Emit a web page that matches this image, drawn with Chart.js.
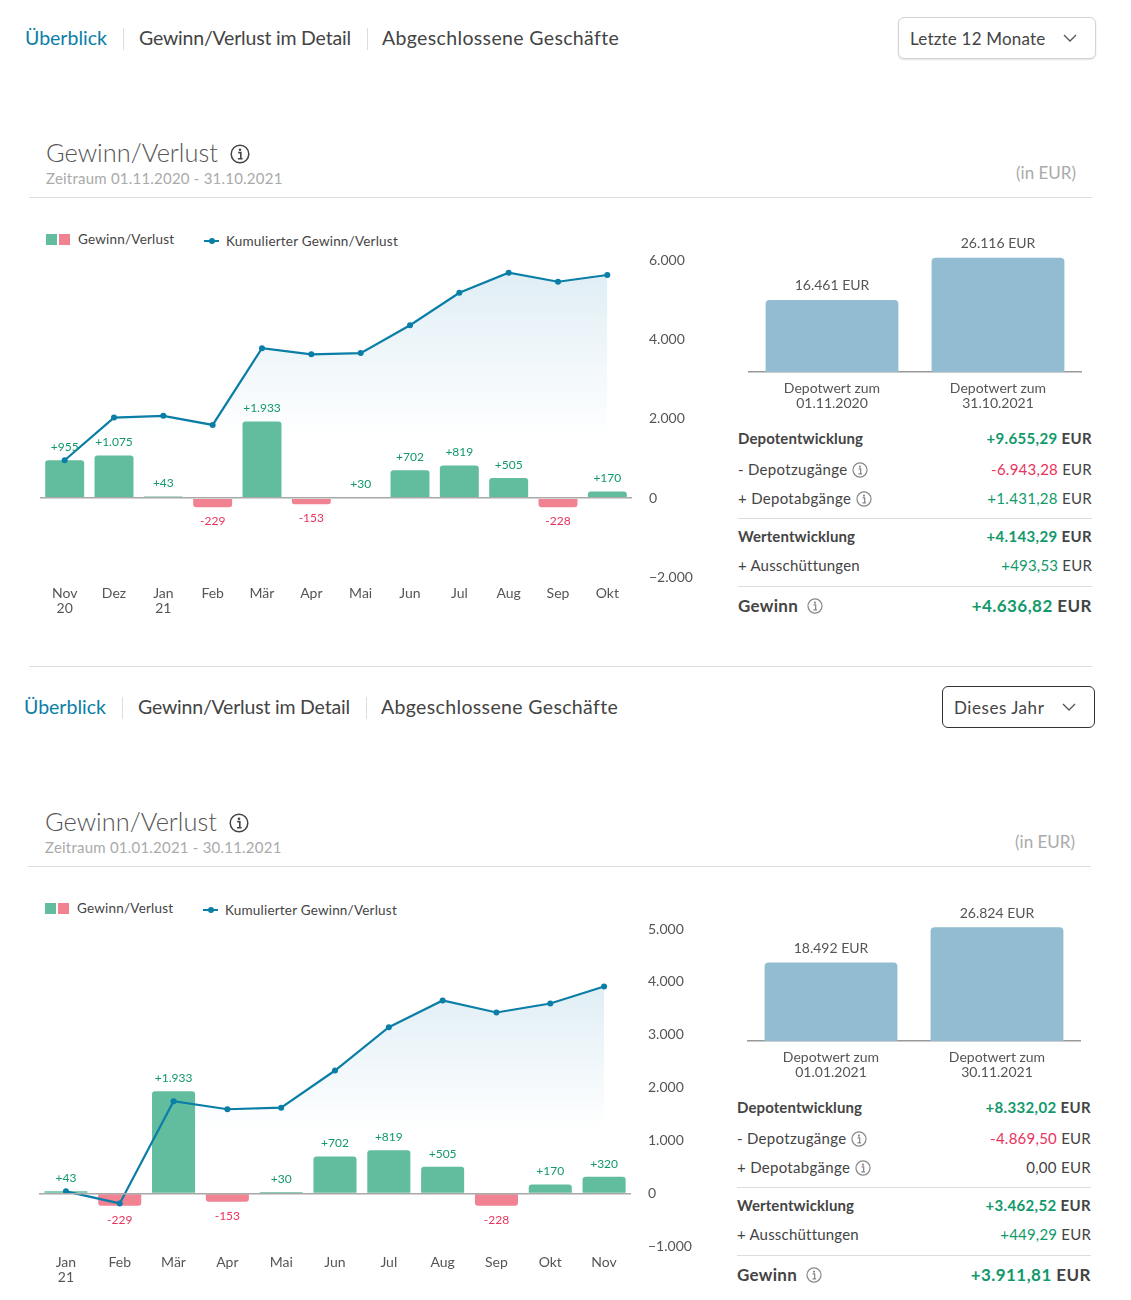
<!DOCTYPE html>
<html lang="de">
<head>
<meta charset="utf-8">
<title>Gewinn/Verlust</title>
<script src="https://cdn.jsdelivr.net/npm/chart.js@4"></script>
<style>
  html, body { margin: 0; background: #fff; }
  body { position: relative; width: 1131px; height: 1300px; overflow: hidden; font-family: Lato, sans-serif; color: #444; }
  .t { position: absolute; white-space: nowrap; transform: translateY(-50%); line-height: 1; }
  .r { position: absolute; background: #ddd; }
  canvas { position: absolute; }
  svg { position: absolute; }
  .up { color: #12996a; }
  .down { color: #e9335c; }
</style>
</head>
<body>
<script>
// ==========================
// DATEN
// ==========================
const months1 = [["Nov", "20"], "Dez", ["Jan", "21"], "Feb", "Mär", "Apr", "Mai", "Jun", "Jul", "Aug", "Sep", "Okt"];
const profit1 = [955, 1075, 43, -229, 1933, -153, 30, 702, 819, 505, -228, 170];
const cumulated1 = [955, 2030, 2073, 1844, 3777, 3624, 3654, 4356, 5175, 5680, 5452, 5622];
const yRange1 = [-2000, 6000, 2000];
const depotLabels1 = [["Depotwert zum", "01.11.2020"], ["Depotwert zum", "31.10.2021"]];
const depotValues1 = [16461, 26116];
const period1 = "Zeitraum 01.11.2020 - 31.10.2021";
const summary1 = ["+9.655,29", "-6.943,28", "+1.431,28", "+4.143,29", "+493,53", "+4.636,82"];

const months2 = [["Jan", "21"], "Feb", "Mär", "Apr", "Mai", "Jun", "Jul", "Aug", "Sep", "Okt", "Nov"];
const profit2 = [43, -229, 1933, -153, 30, 702, 819, 505, -228, 170, 320];
const cumulated2 = [43, -186, 1747, 1594, 1624, 2326, 3145, 3650, 3422, 3592, 3912];
const yRange2 = [-1000, 5000, 1000];
const depotLabels2 = [["Depotwert zum", "01.01.2021"], ["Depotwert zum", "30.11.2021"]];
const depotValues2 = [18492, 26824];
const period2 = "Zeitraum 01.01.2021 - 30.11.2021";
const summary2 = ["+8.332,02", "-4.869,50", "0,00", "+3.462,52", "+449,29", "+3.911,81"];

const summaryLabels = ["Depotentwicklung", "- Depotzugänge", "+ Depotabgänge", "Wertentwicklung", "+ Ausschüttungen", "Gewinn"];
const tabLabels = ["Überblick", "Gewinn/Verlust im Detail", "Abgeschlossene Geschäfte"];

const GREEN = "#62bd9e";
const RED = "#f18292";
const BLUE = "#0a7ea6";
const DEPOT_BLUE = "#91bcd1";

// ==========================
// HTML HELFER
// ==========================
function text(x, y, str, css) {
  const el = document.createElement("div");
  el.className = "t";
  el.style.cssText = `left:${x}px;top:${y}px;${css || ""}`;
  el.textContent = str;
  document.body.appendChild(el);
  return el;
}

function textRight(right, y, html, css) {
  const el = document.createElement("div");
  el.className = "t";
  el.style.cssText = `right:${1131 - right}px;top:${y}px;${css || ""}`;
  el.innerHTML = html;
  document.body.appendChild(el);
}

function rule(x, y, w, h, color) {
  const el = document.createElement("div");
  el.className = "r";
  el.style.cssText = `left:${x}px;top:${y}px;width:${w}px;height:${h}px;background:${color || "#ddd"}`;
  document.body.appendChild(el);
  return el;
}

function infoIcon(cx, cy, size, color) {
  const s = document.createElementNS("http://www.w3.org/2000/svg", "svg");
  s.setAttribute("viewBox", "0 0 20 20");
  s.setAttribute("width", size);
  s.setAttribute("height", size);
  s.style.left = cx - size / 2 + "px";
  s.style.top = cy - size / 2 + "px";
  s.innerHTML =
    `<circle cx="10" cy="10" r="8.8" fill="none" stroke="${color}" stroke-width="1.5"/>` +
    `<circle cx="10" cy="5.8" r="1.3" fill="${color}"/>` +
    `<path d="M8.2 8.6h2.6v6M8 14.8h4.6" fill="none" stroke="${color}" stroke-width="1.6"/>`;
  document.body.appendChild(s);
}

function chevron(cx, cy) {
  const s = document.createElementNS("http://www.w3.org/2000/svg", "svg");
  s.setAttribute("width", 14);
  s.setAttribute("height", 8);
  s.style.left = cx - 7 + "px";
  s.style.top = cy - 4 + "px";
  s.innerHTML = `<path d="M1 1l6 6 6-6" fill="none" stroke="#555" stroke-width="1.3"/>`;
  document.body.appendChild(s);
}

function addCanvas(x, y, w, h) {
  const c = document.createElement("canvas");
  c.width = w;
  c.height = h;
  c.style.left = x + "px";
  c.style.top = y + "px";
  c.style.width = w + "px";
  c.style.height = h + "px";
  document.body.appendChild(c);
  return c.getContext("2d");
}

// ==========================
// PLUGIN BALKENBESCHRIFTUNG
// ==========================
const fmt = (v) => v.toLocaleString("de-DE");

const barLabels = {
  id: "barLabels",
  afterDatasetsDraw(chart, args, opts) {
    const idx = chart.data.datasets.findIndex((d) => d.type === "bar" || !d.type);
    const meta = chart.getDatasetMeta(idx);
    const values = chart.data.datasets[idx].data;
    const ctx = chart.ctx;
    ctx.save();
    ctx.textAlign = "center";
    ctx.textBaseline = "middle";
    ctx.font = opts.font;
    meta.data.forEach((bar, i) => {
      const v = values[i];
      ctx.fillStyle = opts.color || (v < 0 ? "#e9335c" : "#12996a");
      const y = v < 0 ? bar.y + opts.below : bar.y - opts.above;
      ctx.fillText(opts.format(v), bar.x, y);
    });
    ctx.restore();
  },
};

// ==========================
// HAUPTDIAGRAMM
// ==========================
function mainChart(dx, dy, labels, profit, cumulated, yRange, barPct, fadeValue) {
  const ctx = addCanvas(dx, dy + 220, 720, 410);
  new Chart(ctx, {
    data: {
      labels,
      datasets: [
        {
          type: "line",
          order: 1,
          data: cumulated,
          borderColor: BLUE,
          borderWidth: 2.2,
          tension: 0,
          pointRadius: 3,
          pointBackgroundColor: BLUE,
          pointBorderColor: BLUE,
          pointBorderWidth: 0,
          fill: "origin",
          backgroundColor: (c) => {
            // vor dem ersten Layout gibt es noch keine Pixelwerte
            if (!c.chart.chartArea) return "transparent";
            const yScale = c.chart.scales.y;
            const g = c.chart.ctx.createLinearGradient(
              0, yScale.getPixelForValue(Math.max(...cumulated)),
              0, yScale.getPixelForValue(fadeValue),
            );
            g.addColorStop(0, "rgba(224,238,245,1)");
            g.addColorStop(1, "rgba(255,255,255,1)");
            return g;
          },
        },
        {
          type: "bar",
          order: 2,
          data: profit,
          backgroundColor: profit.map((v) => (v < 0 ? RED : GREEN)),
          borderRadius: 3,
          categoryPercentage: 1,
          barPercentage: barPct,
        },
      ],
    },
    options: {
      responsive: false,
      animation: false,
      layout: { padding: { left: 40, top: 40, right: 0, bottom: 0 } },
      plugins: {
        legend: { display: false },
        tooltip: { enabled: false },
        filler: { drawTime: "beforeDatasetsDraw" },
        barLabels: { font: "12px Lato", above: 13, below: 14, format: (v) => (v > 0 ? "+" : "") + fmt(v) },
      },
      scales: {
        x: {
          grid: { display: false },
          border: { display: false },
          afterFit: (s) => { s.height = 52.5; },
          ticks: {
            autoSkip: false,
            maxRotation: 0,
            padding: 0,
            color: "#555",
            font: { family: "Lato", size: 14, lineHeight: "15px" },
          },
        },
        y: {
          position: "right",
          min: yRange[0],
          max: yRange[1],
          afterFit: (s) => { s.width = 88; },
          border: { display: false },
          grid: {
            color: (c) => (c.tick.value === 0 ? "#a8a8a8" : "transparent"),
            lineWidth: 1.5,
            drawTicks: false,
            z: 1, // Nulllinie liegt über den Balken
          },
          ticks: {
            stepSize: yRange[2],
            crossAlign: "near",
            padding: 17,
            color: "#555",
            font: { family: "Lato", size: 14 },
            callback: (v) => fmt(v).replace("-", "−"),
          },
        },
      },
    },
    plugins: [barLabels],
  });
}

// ==========================
// DEPOTWERT
// ==========================
function depotChart(dx, dy, labels, values, yMax) {
  const ctx = addCanvas(dx + 720, dy + 225, 400, 200);
  new Chart(ctx, {
    type: "bar",
    data: {
      labels,
      datasets: [
        {
          data: values,
          backgroundColor: DEPOT_BLUE,
          borderRadius: 4,
          categoryPercentage: 1,
          barPercentage: 0.8,
        },
      ],
    },
    options: {
      responsive: false,
      animation: false,
      layout: { padding: { left: 29, top: 7, right: 39, bottom: 0 } },
      plugins: {
        legend: { display: false },
        tooltip: { enabled: false },
        barLabels: { font: "14px Lato", color: "#555", above: 14, below: 0, format: (v) => fmt(v) + " EUR" },
      },
      scales: {
        x: {
          grid: { display: false },
          border: { display: true, color: "#999", width: 1.5 },
          afterFit: (s) => { s.height = 53; },
          ticks: {
            maxRotation: 0,
            padding: 1,
            color: "#555",
            font: { family: "Lato", size: 14, lineHeight: "15px" },
          },
        },
        y: { display: false, min: 0, max: yMax },
      },
    },
    plugins: [barLabels],
  });
}

// ==========================
// PANEL
// ==========================
function panelFrame(dx, dy, period, summary, selectText, selectBorder, selectX, selectSpacing) {
  // Reiter
  const tabFont = "font-size:19.5px;";
  text(dx + 25, dy + 38, tabLabels[0], tabFont + "color:#0a7ea6");
  rule(dx + 123, dy + 28, 1, 22);
  text(dx + 139, dy + 38, tabLabels[1], tabFont + "letter-spacing:-.2px");
  rule(dx + 367, dy + 28, 1, 22);
  text(dx + 382, dy + 38, tabLabels[2], tabFont + "letter-spacing:.35px");

  // Auswahl
  const box = rule(selectX, dy + 17, 1096 + dx - selectX - 2, 40, "#fff");
  box.style.border = `1px solid ${selectBorder}`;
  box.style.borderRadius = "6px";
  if (selectBorder !== "#333") box.style.boxShadow = "0 1px 2px rgba(0,0,0,.12)";
  text(selectX + 12, dy + 38, selectText, `font-size:17px;letter-spacing:${selectSpacing}px`);
  chevron(dx + 1070, dy + 38);

  // Titel
  text(dx + 46, dy + 153, "Gewinn/Verlust", "font-size:25.4px;font-weight:300;color:#555");
  infoIcon(dx + 240, dy + 154, 20, "#444");
  text(dx + 46, dy + 178, period, "font-size:15px;letter-spacing:.22px;color:#aaa");
  textRight(dx + 1076, dy + 172, "(in EUR)", "font-size:17px;color:#aaa");
  rule(dx + 29, dy + 197, 1063, 1);

  // Legende
  rule(dx + 46, dy + 234, 11, 11, GREEN);
  rule(dx + 59, dy + 234, 11, 11, RED);
  text(dx + 78, dy + 240, "Gewinn/Verlust", "font-size:13.5px;letter-spacing:.2px");
  rule(dx + 204, dy + 240, 15, 2, BLUE);
  const dot = rule(dx + 209, dy + 238, 6, 6, BLUE);
  dot.style.borderRadius = "50%";
  text(dx + 226, dy + 242, "Kumulierter Gewinn/Verlust", "font-size:13.5px;letter-spacing:.2px");

  // Tabelle
  const rowY = [438, 469, 498, 536, 565, 604.5];
  const labelCss = [
    "font-size:15px;font-weight:700;letter-spacing:.1px", "font-size:15px;letter-spacing:.3px", "font-size:15px;letter-spacing:.3px",
    "font-size:15px;font-weight:700;letter-spacing:.1px", "font-size:15px;letter-spacing:.2px", "font-size:17px;font-weight:700;letter-spacing:.3px",
  ];
  const valueCss = [
    "font-size:15px;font-weight:700;letter-spacing:.35px", "font-size:15px;letter-spacing:.25px", "font-size:15px;letter-spacing:.3px",
    "font-size:15px;font-weight:700;letter-spacing:.35px", "font-size:15px;letter-spacing:.2px", "font-size:17px;font-weight:700;letter-spacing:.45px",
  ];
  summaryLabels.forEach((label, i) => {
    text(dx + 738, dy + rowY[i], label, labelCss[i]);
    const v = summary[i];
    const cls = v[0] === "-" ? "down" : v[0] === "+" ? "up" : "";
    textRight(dx + 1092, dy + rowY[i], `<span class="${cls}">${v}</span> EUR`, valueCss[i]);
  });
  rule(dx + 738, dy + 518, 354, 1);
  rule(dx + 738, dy + 586, 354, 1);
  infoIcon(dx + 860, dy + 470, 16, "#888");
  infoIcon(dx + 864, dy + 499, 16, "#888");
  infoIcon(dx + 815, dy + 606, 16, "#888");
}

// ==========================
// INIT
// ==========================
panelFrame(0, 0, period1, summary1, "Letzte 12 Monate", "#d4d4d4", 898, 0.2);
mainChart(0, 0, months1, profit1, cumulated1, yRange1, 0.79, 1500);
depotChart(0, 0, depotLabels1, depotValues1, 32000);

rule(29, 666, 1063, 1);

panelFrame(-1, 669, period2, summary2, "Dieses Jahr", "#333", 942, 0.55);
mainChart(-1, 669, months2, profit2, cumulated2, yRange2, 0.8, 1200);
depotChart(-1, 669, depotLabels2, depotValues2, 33000);
</script>
</body>
</html>
